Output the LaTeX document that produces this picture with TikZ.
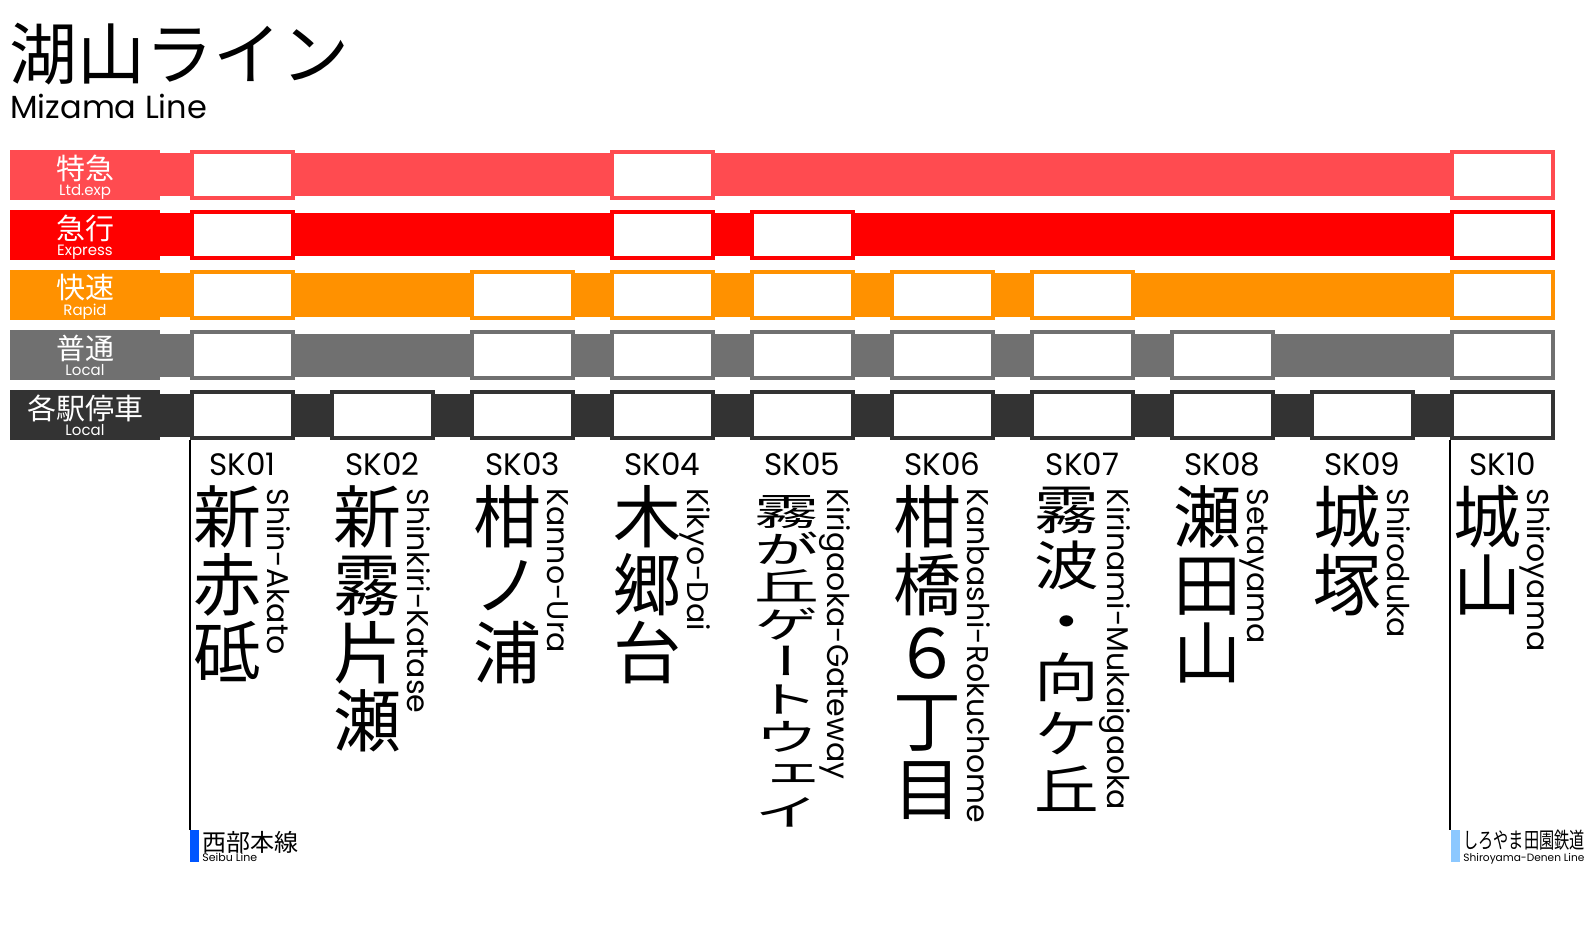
\documentclass[tikz,border=0pt]{standalone}
\usepackage{graphicx}
\usepackage{fontspec}
\setmainfont{Poppins}
\newfontfamily\jp{Noto Sans CJK JP}
\newfontfamily\tate[RawFeature=+vert]{Noto Sans CJK JP}
\newfontfamily\tatemid[RawFeature=+vert,FakeStretch=1.22]{Noto Sans CJK JP}
\newfontfamily\tatelow[RawFeature=+vert,FakeStretch=1.73]{Noto Sans CJK JP}
\usetikzlibrary{backgrounds}

\definecolor{ltdc}{RGB}{255,75,80}
\definecolor{expc}{RGB}{255,0,0}
\definecolor{rapc}{RGB}{255,145,0}
\definecolor{locc}{RGB}{112,112,112}
\definecolor{kakc}{RGB}{51,51,51}
\definecolor{seibuc}{RGB}{0,85,255}
\definecolor{shiroc}{RGB}{140,200,255}

\begin{document}
\begin{tikzpicture}[x=0.5pt,y=-0.5pt,inner sep=0pt,
    svc/.style={fill=#1,minimum width=75pt,minimum height=25pt},
    svcname/.style={text=white,font=\jp\fontsize{14.5}{14.5}\selectfont},
    svcsub/.style={text=white,anchor=base,font=\fontsize{7.5}{7.5}\selectfont},
    band/.style={draw=#1,line width=21.5pt},
    stopbox/.style={draw=#1,fill=white,line width=2pt,minimum width=50.5pt,minimum height=23pt},
    sknum/.style={anchor=base,font=\fontsize{15.5}{15.5}\selectfont},
    kanji/.style={anchor=north,align=center,font=\tate\fontsize{34}{34}\selectfont},
    roma/.style={anchor=base west,rotate=-90,font=\fontsize{15}{15}\selectfont},
    rail/.style={draw=black,line width=1pt},
    xfer/.style={fill=#1,minimum width=4.5pt,minimum height=16pt}]

  \path[use as bounding box] (0,0) rectangle (1590,936);

  % title
  \node[anchor=base west,font=\jp\fontsize{34}{34}\selectfont] (title) at (9,80) {湖山ライン};
  \node[anchor=base west,font=\fontsize{16}{16}\selectfont] (subtitle) at (10,119) {Mizama Line};

  % service labels
  \node[svc=ltdc] (ltd) at (85,175) {};
  \node[svcname] (ltdj) at ([yshift=3.5pt]ltd.center) {特急};
  \node[svcsub] (ltde) at ([yshift=2.5pt]ltd.south) {Ltd.exp};
  \node[svc=expc] (exp) at (85,235) {};
  \node[svcname] (expj) at ([yshift=3.5pt]exp.center) {急行};
  \node[svcsub] (expe) at ([yshift=2.5pt]exp.south) {Express};
  \node[svc=rapc] (rap) at (85,295) {};
  \node[svcname] (rapj) at ([yshift=3.5pt]rap.center) {快速};
  \node[svcsub] (rape) at ([yshift=2.5pt]rap.south) {Rapid};
  \node[svc=locc] (loc) at (85,355) {};
  \node[svcname] (locj) at ([yshift=3.5pt]loc.center) {普通};
  \node[svcsub] (loce) at ([yshift=2.5pt]loc.south) {Local};
  \node[svc=kakc] (kak) at (85,415) {};
  \node[svcname] (kakj) at ([yshift=3.5pt]kak.center) {各駅停車};
  \node[svcsub] (kake) at ([yshift=2.5pt]kak.south) {Local};

  % stops
  \node[stopbox=ltdc] (ltd1) at (242.5,175) {};
  \node[stopbox=ltdc] (ltd4) at (662.5,175) {};
  \node[stopbox=ltdc] (ltd10) at (1502.5,175) {};

  \node[stopbox=expc] (exp1) at (242.5,235) {};
  \node[stopbox=expc] (exp4) at (662.5,235) {};
  \node[stopbox=expc] (exp5) at (802.5,235) {};
  \node[stopbox=expc] (exp10) at (1502.5,235) {};

  \node[stopbox=rapc] (rap1) at (242.5,295) {};
  \node[stopbox=rapc] (rap3) at (522.5,295) {};
  \node[stopbox=rapc] (rap4) at (662.5,295) {};
  \node[stopbox=rapc] (rap5) at (802.5,295) {};
  \node[stopbox=rapc] (rap6) at (942.5,295) {};
  \node[stopbox=rapc] (rap7) at (1082.5,295) {};
  \node[stopbox=rapc] (rap10) at (1502.5,295) {};

  \node[stopbox=locc] (loc1) at (242.5,355) {};
  \node[stopbox=locc] (loc3) at (522.5,355) {};
  \node[stopbox=locc] (loc4) at (662.5,355) {};
  \node[stopbox=locc] (loc5) at (802.5,355) {};
  \node[stopbox=locc] (loc6) at (942.5,355) {};
  \node[stopbox=locc] (loc7) at (1082.5,355) {};
  \node[stopbox=locc] (loc8) at (1222.5,355) {};
  \node[stopbox=locc] (loc10) at (1502.5,355) {};

  \node[stopbox=kakc] (kak1) at (242.5,415) {};
  \node[stopbox=kakc] (kak2) at (382.5,415) {};
  \node[stopbox=kakc] (kak3) at (522.5,415) {};
  \node[stopbox=kakc] (kak4) at (662.5,415) {};
  \node[stopbox=kakc] (kak5) at (802.5,415) {};
  \node[stopbox=kakc] (kak6) at (942.5,415) {};
  \node[stopbox=kakc] (kak7) at (1082.5,415) {};
  \node[stopbox=kakc] (kak8) at (1222.5,415) {};
  \node[stopbox=kakc] (kak9) at (1362.5,415) {};
  \node[stopbox=kakc] (kak10) at (1502.5,415) {};

  \begin{scope}[on background layer]
    \fill[white] (0,0) rectangle (1590,936);
    \draw[band=ltdc] (ltd) -- (ltd10);
    \draw[band=expc] (exp) -- (exp10);
    \draw[band=rapc] (rap) -- (rap10);
    \draw[band=locc] (loc) -- (loc10);
    \draw[band=kakc] (kak) -- (kak10);
  \end{scope}

  % stations
  \node[sknum] (c1) at (242.5,475) {SK01};
  \node[kanji] (n1) at (227,485) {新\\赤\\砥};
  \node[roma] (r1) at (267,488) {Shin-Akato};

  \node[sknum] (c2) at (382.5,475) {SK02};
  \node[kanji] (n2) at (367,485) {新\\霧\\片\\瀬};
  \node[roma] (r2) at (407,488) {Shinkiri-Katase};

  \node[sknum] (c3) at (522.5,475) {SK03};
  \node[kanji] (n3) at (507,485) {柑\\ノ\\浦};
  \node[roma] (r3) at (547,488) {Kanno-Ura};

  \node[sknum] (c4) at (662.5,475) {SK04};
  \node[kanji] (n4) at (647,485) {木\\郷\\台};
  \node[roma] (r4) at (687,488) {Kikyo-Dai};

  \node[sknum] (c5) at (802.5,475) {SK05};
  \node[kanji,font=\tatelow\fontsize{18.75}{18.8}\selectfont] (n5) at (787,495) {霧\\が\\丘\\ゲ\\ー\\ト\\ウ\\ェ\\イ};
  \node[roma] (r5) at (827,488) {Kirigaoka-Gateway};

  \node[sknum] (c6) at (942.5,475) {SK06};
  \node[kanji] (n6) at (927,485) {柑\\橋\\６\\丁\\目};
  \node[roma] (r6) at (967,488) {Kanbashi-Rokuchome};

  \node[sknum] (c7) at (1082.5,475) {SK07};
  \node[kanji,font=\tatemid\fontsize{26.5}{28}\selectfont] (n7) at (1067,487) {霧\\波\\・\\向\\ケ\\丘};
  \node[roma] (r7) at (1107,488) {Kirinami-Mukaigaoka};

  \node[sknum] (c8) at (1222.5,475) {SK08};
  \node[kanji] (n8) at (1207,485) {瀬\\田\\山};
  \node[roma] (r8) at (1247,488) {Setayama};

  \node[sknum] (c9) at (1362.5,475) {SK09};
  \node[kanji] (n9) at (1347,485) {城\\塚};
  \node[roma] (r9) at (1387,488) {Shiroduka};

  \node[sknum] (c10) at (1502.5,475) {SK10};
  \node[kanji] (n10) at (1487,485) {城\\山};
  \node[roma] (r10) at (1527,488) {Shiroyama};

  % connections
  \node[xfer=seibuc] (seibu) at (194.5,846) {};
  \node[anchor=base west,font=\jp\fontsize{12}{12}\selectfont] (seibuj) at (202,851) {西部本線};
  \node[anchor=base west,font=\fontsize{5.5}{5.5}\selectfont] (seibue) at (202,861) {Seibu Line};
  \draw[rail] (kak1.south west) -- (kak1.south west |- seibu.north);

  \node[xfer=shiroc] (shiro) at (1455,846) {};
  \node[anchor=base west,font=\jp\fontsize{11}{11}\selectfont] (shiroj) at (1463,848) {\scalebox{0.69}[1]{しろやま田園鉄道}};
  \node[anchor=base west,font=\fontsize{5.3}{5.3}\selectfont] (shiroe) at (1463,861) {Shiroyama-Denen Line};
  \draw[rail] (kak10.south west) -- (kak10.south west |- shiro.north);

\end{tikzpicture}
\end{document}
